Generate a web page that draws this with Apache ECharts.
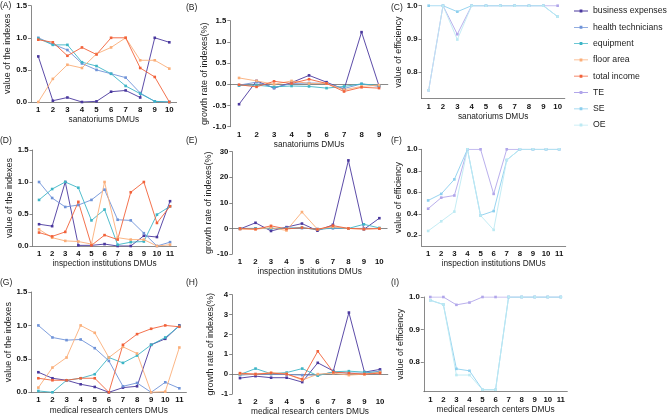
<!DOCTYPE html>
<html><head><meta charset="utf-8">
<script src="https://cdn.jsdelivr.net/npm/echarts@6/dist/echarts.min.js"></script>
<style>html,body{margin:0;padding:0;background:#fff}#c{width:669px;height:417px}</style>
</head><body><div id="c"></div><script>
// ---------- data ----------
const seriesNames = ['business expenses','health technicians','equipment','floor area','total income','TE','SE','OE'];

const catsSan = ['1','2','3','4','5','6','7','8','9','10'];
const catsSanGrowth = ['1','2','3','4','5','6','7','8','9'];
const catsIns = ['1','2','3','4','5','6','7','8','9','10','11'];
const catsInsGrowth = ['1','2','3','4','5','6','7','8','9','10'];
const catsMed = ['1','2','3','4','5','6','7','8','9','10','11'];
const catsMedGrowth = ['1','2','3','4','5','6','7','8','9','10'];

// (A) sanatoriums - value of the indexes
const aBE = [0.71,0.02,0.07,0.00,0.01,0.16,0.18,0.07,1.00,0.93];
const aHT = [1.00,0.90,0.81,0.60,0.50,0.44,0.38,0.14,0.01,0.00];
const aEQ = [0.99,0.89,0.89,0.62,0.56,0.44,0.25,0.13,0.01,0.00];
const aFA = [0.00,0.36,0.58,0.53,0.75,0.85,1.00,0.65,0.65,0.52];
const aTI = [0.97,0.93,0.72,0.85,0.74,1.00,1.00,0.53,0.39,0.00];
// (B) sanatoriums - growth rate
const bBE = [-0.47,0.08,-0.09,0.04,0.21,0.05,-0.12,1.23,-0.04];
const bHT = [-0.02,0.05,-0.08,0.02,0.03,0.02,-0.10,0.01,-0.05];
const bEQ = [-0.03,-0.02,-0.06,-0.04,-0.05,-0.09,-0.05,0.01,-0.03];
const bFA = [0.15,0.08,0.00,0.08,0.02,0.02,-0.13,-0.05,-0.02];
const bTI = [-0.01,-0.06,0.07,0.02,0.12,0.02,-0.17,-0.07,-0.09];
// (C) sanatoriums - efficiency
const cTE = [0.745,1.00,0.914,1.00,1.00,1.00,1.00,1.00,1.00,1.00];
const cSE = [1.00,1.00,0.982,1.00,1.00,1.00,1.00,1.00,1.00,0.967];
const cOE = [0.745,1.00,0.898,1.00,1.00,1.00,1.00,1.00,1.00,0.967];
// (D) inspection institutions - value of the indexes
const dBE = [0.34,0.31,1.00,0.01,0.01,0.03,0.00,0.00,0.16,0.14,0.70];
const dHT = [1.00,0.75,0.61,0.64,0.72,0.88,0.41,0.40,0.20,0.00,0.06];
const dEQ = [0.72,0.89,1.00,0.91,0.40,0.57,0.02,0.06,0.07,0.49,0.62];
const dFA = [0.26,0.13,0.08,0.07,0.03,1.00,0.13,0.10,0.10,0.00,0.02];
const dTI = [0.21,0.15,0.22,0.69,0.01,0.17,0.10,0.84,1.00,0.36,0.62];
// (E) inspection institutions - growth rate
const eBE = [-0.2,2.2,-1.0,0.5,1.9,-0.9,1.4,26.6,-0.4,4.0];
const eHT = [0.0,0.0,-0.1,0.2,0.1,-0.2,0.0,0.0,0.0,0.0];
const eEQ = [0.0,0.0,0.0,0.0,0.3,-0.5,0.3,0.0,1.6,0.2];
const eFA = [-0.3,-0.3,0.3,-0.8,6.4,-0.3,0.6,0.0,-0.3,0.0];
const eTI = [0.0,-0.3,1.0,-0.2,0.3,-0.4,1.1,0.0,-0.2,-0.1];
// (F) inspection institutions - efficiency
const fTE = [0.447,0.55,0.57,1.00,1.00,0.585,1.00,1.00,1.00,1.00,1.00];
const fSE = [0.524,0.585,0.72,1.00,0.384,0.425,0.90,1.00,1.00,1.00,1.00];
const fOE = [0.24,0.33,0.42,1.00,0.384,0.25,0.90,1.00,1.00,1.00,1.00];
// (G) medical research centers - value of the indexes
const gBE = [0.30,0.21,0.18,0.12,0.08,0.00,0.07,0.09,0.71,0.80,1.00];
const gHT = [1.00,0.82,0.78,0.79,0.66,0.47,0.09,0.14,0.00,0.15,0.06];
const gEQ = [0.02,0.00,0.18,0.21,0.27,0.52,0.44,0.55,0.71,0.82,0.99];
const gFA = [0.07,0.37,0.52,1.00,0.89,0.52,0.68,0.58,0.00,0.01,0.67];
const gTI = [0.21,0.18,0.18,0.21,0.21,0.00,0.71,0.87,0.95,1.00,0.98];
// (H) medical research centers - growth rate
const hBE = [-0.20,-0.10,-0.18,-0.18,-0.40,0.57,0.16,3.10,0.10,0.24];
const hHT = [-0.05,0.00,0.00,-0.02,-0.05,-0.05,0.10,0.05,0.05,0.15];
const hEQ = [-0.02,0.28,0.02,0.08,0.28,-0.08,0.12,0.15,0.10,0.10];
const hFA = [0.00,0.00,0.08,0.02,-0.30,0.00,0.05,-0.05,0.00,0.10];
const hTI = [0.05,0.00,0.05,0.00,-0.25,1.15,0.10,0.05,0.00,0.05];
// (I) medical research centers - efficiency
const iTE = [1.00,1.00,0.976,0.983,1.00,1.00,1.00,1.00,1.00,1.00,1.00];
const iSE = [0.99,0.977,0.78,0.774,0.716,0.716,1.00,1.00,1.00,1.00,1.00];
const iOE = [0.99,0.977,0.761,0.761,0.716,0.716,1.00,1.00,1.00,1.00,1.00];

// ---------- styling / layout ----------
const colors = {
  'business expenses':'#4a389e',
  'health technicians':'#6f93d8',
  'equipment':'#3db5c6',
  'floor area':'#fbae78',
  'total income':'#f2623a',
  'TE':'#b1a6ea',
  'SE':'#8ccfee',
  'OE':'#bdeaf3'
};
const axisColor = '#6b6b6b';
const FONT = 'Liberation Sans, Arial, sans-serif';

const panels = [
  {tag:'(A)', tx:0, ty:1, grid:{left:31,top:5.7,width:145.6,height:96.3}, cats:catsSan, xName:'sanatoriums DMUs', yName:'value of the indexes',
   y:{min:0,max:1.5,interval:0.5,dec:1}, data:[aBE,aHT,aEQ,aFA,aTI], names:seriesNames.slice(0,5)},
  {tag:'(B)', tx:186, ty:3, grid:{left:230.3,top:20.7,width:157.5,height:106}, cats:catsSanGrowth, xName:'sanatoriums DMUs', yName:'growth rate of indexes(%)',
   y:{min:-1,max:1.5,interval:0.5,dec:1}, data:[bBE,bHT,bEQ,bFA,bTI], names:seriesNames.slice(0,5)},
  {tag:'(C)', tx:391, ty:3, grid:{left:421.5,top:5.7,width:143.3,height:92.9}, cats:catsSan, xName:'sanatoriums DMUs', yName:'value of efficiency',
   y:{min:0.72,max:1.0,custom:[0.8,0.9,1.0],dec:1}, data:[cTE,cSE,cOE], names:seriesNames.slice(5)},
  {tag:'(D)', tx:0, ty:136, grid:{left:32.5,top:150,width:144.1,height:96}, cats:catsIns, xName:'inspection institutions DMUs', yName:'value of the indexes',
   y:{min:0,max:1.5,interval:0.5,dec:1}, data:[dBE,dHT,dEQ,dFA,dTI], names:seriesNames.slice(0,5)},
  {tag:'(E)', tx:186, ty:136, grid:{left:232.3,top:151.7,width:154.8,height:102.3}, cats:catsInsGrowth, xName:'inspection institutions DMUs', yName:'growth rate of indexes(%)',
   y:{min:-10,max:30,interval:10,dec:0}, data:[eBE,eHT,eEQ,eFA,eTI], names:seriesNames.slice(0,5)},
  {tag:'(F)', tx:391, ty:136, grid:{left:421.6,top:149.3,width:144.1,height:96.7}, cats:catsIns, xName:'inspection institutions DMUs', yName:'value of efficiency',
   y:{min:0.1,max:1.0,custom:[0.2,0.4,0.6,0.8,1.0],dec:1}, data:[fTE,fSE,fOE], names:seriesNames.slice(5)},
  {tag:'(G)', tx:0, ty:278, grid:{left:31.3,top:292,width:155.1,height:100.3}, cats:catsMed, xName:'medical research centers DMUs', yName:'value of the indexes',
   y:{min:0,max:1.5,interval:0.5,dec:1}, data:[gBE,gHT,gEQ,gFA,gTI], names:seriesNames.slice(0,5)},
  {tag:'(H)', tx:186, ty:278, grid:{left:232.2,top:294.7,width:155.6,height:102.6}, cats:catsMedGrowth, xName:'medical research centers DMUs', yName:'growth rate of indexes(%)',
   y:{min:-1,max:4,interval:1,dec:0}, data:[hBE,hHT,hEQ,hFA,hTI], names:seriesNames.slice(0,5)},
  {tag:'(I)', tx:391, ty:278, grid:{left:423.8,top:297,width:143.5,height:94.7}, cats:catsMed, xName:'medical research centers DMUs', yName:'value of efficiency',
   y:{min:0.71,max:1.0,custom:[0.8,0.9,1.0],dec:1}, data:[iTE,iSE,iOE], names:seriesNames.slice(5)}
];

const grids = [], xAxes = [], yAxes = [], series = [], graphics = [];
panels.forEach((p, k) => {
  grids.push(Object.assign({containLabel:false}, p.grid));
  xAxes.push({
    type:'category', gridIndex:k, data:p.cats, boundaryGap:true,
    name:p.xName, nameLocation:'middle', nameGap:14,
    nameTextStyle:{fontFamily:FONT, fontSize:8.3, color:'#222'},
    axisLine:{onZero:true, lineStyle:{color:axisColor, width:0.8}},
    axisTick:{alignWithLabel:true, length:3, lineStyle:{color:axisColor, width:0.8}},
    axisLabel:{interval:0, margin:4, fontFamily:FONT, fontSize:7.8, fontWeight:'bold', color:'#111'},
    splitLine:{show:false}
  });
  const ya = {
    type:'value', gridIndex:k, min:p.y.min, max:p.y.max,
    name:p.yName, nameLocation:'middle', nameGap:17,
    nameTextStyle:{fontFamily:FONT, fontSize:9, color:'#222'},
    axisLine:{show:true, onZero:false, lineStyle:{color:axisColor, width:0.8}},
    axisTick:{show:true, length:3, lineStyle:{color:axisColor, width:0.8}},
    axisLabel:{margin:4, fontFamily:FONT, fontSize:7.8, fontWeight:'bold', color:'#111',
      formatter:(v)=>Number(v).toFixed(p.y.dec)},
    splitLine:{show:false}
  };
  if (p.y.interval) ya.interval = p.y.interval;
  if (p.y.custom) {
    ya.axisLabel.customValues = p.y.custom;
    ya.axisTick.customValues = p.y.custom;
  }
  yAxes.push(ya);
  p.data.forEach((arr, j) => {
    const nm = p.names[j];
    series.push({
      type:'line', name:nm, xAxisIndex:k, yAxisIndex:k, data:arr,
      symbol:'rect', symbolSize:2.6, showSymbol:true,
      itemStyle:{color:colors[nm]},
      lineStyle:{color:colors[nm], width:0.9},
      emphasis:{disabled:true}, animation:false
    });
  });
  graphics.push({type:'text', left:p.tx, top:p.ty,
    style:{text:p.tag, fontFamily:FONT, fontSize:8.5, fill:'#222'}});
});

const chart = echarts.init(document.getElementById('c'), null, {renderer:'canvas'});
chart.setOption({
  animation:false,
  backgroundColor:'#fff',
  grid:grids, xAxis:xAxes, yAxis:yAxes, series:series,
  graphic:graphics,
  legend:{
    data:seriesNames, orient:'vertical', left:569, top:1,
    itemWidth:14, itemHeight:3, itemGap:6.3,
    icon:'path://M0,1.1H14V1.9H0Z M5.6,0H8.4V3H5.6Z',
    textStyle:{fontFamily:FONT, fontSize:8.7, color:'#222', lineHeight:10},
    selectedMode:false
  }
});
</script></body></html>
